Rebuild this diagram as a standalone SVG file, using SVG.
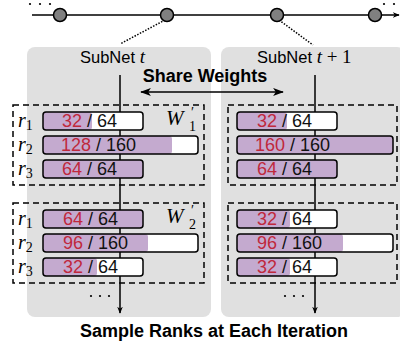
<svg xmlns="http://www.w3.org/2000/svg" width="400" height="346" viewBox="0 0 400 346">
  <defs>
    <style>
      .panel { fill: #e0e0e0; }
      .dash { fill: none; stroke: #000; stroke-width: 1.5; stroke-dasharray: 6 4; }
      .bar { fill: #fff; }
      .edge { fill: none; stroke: #000; stroke-width: 1.5; }
      .fill { fill: #c4aacf; }
      .sans { font-family: "Liberation Sans", Arial, sans-serif; }
      .num { font-family: "Liberation Sans", Arial, sans-serif; font-size: 18px; fill: #111; }
      .red { fill: #c0283c; }
      .math { font-family: "Liberation Serif", "Times New Roman", serif; font-style: italic; }
      .rm { font-family: "Liberation Serif", "Times New Roman", serif; font-style: normal; }
      .line { stroke: #000; stroke-width: 1.5; fill: none; }
      .dot { stroke: #000; stroke-width: 1.5; stroke-dasharray: 1.5 1.5; fill: none; }
      .node { fill: #808080; stroke: #000; stroke-width: 1.5; }
    </style>
    <marker id="head" viewBox="0 0 10 10" refX="9" refY="5" markerWidth="7" markerHeight="7" orient="auto-start-reverse" markerUnits="userSpaceOnUse">
      <path d="M0,1 L10,5 L0,9 L3,5 Z" fill="#000"/>
    </marker>
    <marker id="wide" viewBox="0 0 12 10" refX="11" refY="5" markerWidth="11" markerHeight="9" orient="auto-start-reverse" markerUnits="userSpaceOnUse">
      <path d="M0,0.5 L12,5 L0,9.5 L3,5 Z" fill="#000"/>
    </marker>
  </defs>

  <!-- background panels -->
  <rect class="panel" x="27" y="47" width="184" height="270" rx="8"/>
  <rect class="panel" x="221" y="47" width="184" height="270" rx="8"/>

  <!-- timeline and connectors -->
  <g id="connectors">
    <line class="line" x1="32" y1="15" x2="399" y2="15" marker-end="url(#head)"/>
    <line class="dot" x1="165" y1="20" x2="120" y2="44"/>
    <line class="dot" x1="279" y1="20" x2="313" y2="45"/>
    <line class="line" x1="120" y1="75" x2="120" y2="313" marker-end="url(#head)"/>
    <line class="line" x1="315" y1="75" x2="315" y2="313" marker-end="url(#head)"/>
    <line class="line" x1="141" y1="92" x2="283" y2="92" marker-start="url(#wide)" marker-end="url(#wide)"/>
  </g>

  <!-- timeline ellipses -->
  <g fill="#000">
    <circle cx="30" cy="4" r="1.1"/>
    <circle cx="40" cy="4" r="1.1"/>
    <circle cx="50" cy="4" r="1.1"/>
    <circle cx="384" cy="4" r="1.1"/>
    <circle cx="394" cy="4" r="1.1"/>
  </g>

  <!-- timeline nodes -->
  <g id="step0"><circle class="node" cx="60" cy="15" r="6.5"/></g>
  <g id="step1"><circle class="node" cx="167" cy="15" r="6.5"/></g>
  <g id="step2"><circle class="node" cx="277" cy="15" r="6.5"/></g>
  <g id="step3"><circle class="node" cx="375" cy="15" r="6.5"/></g>

  <!-- titles -->
  <text class="sans" x="80" y="63" font-size="16.5">SubNet <tspan class="math" font-size="19">t</tspan></text>
  <text class="sans" x="257" y="63" font-size="16.5">SubNet <tspan class="math" font-size="19">t</tspan><tspan class="rm" font-size="19"> + 1</tspan></text>
  <text class="sans" x="205" y="82" font-size="18" font-weight="bold" text-anchor="middle">Share Weights</text>

  <!-- SubNet t, layer group W1' -->
  <g id="subnet-t-w1">
    <rect class="dash" x="13" y="105" width="191" height="80"/>
    <text class="math" x="18" y="127" font-size="20">r<tspan class="rm" font-size="14" dy="3">1</tspan></text>
    <text class="math" x="18" y="151" font-size="20">r<tspan class="rm" font-size="14" dy="3">2</tspan></text>
    <text class="math" x="18" y="175" font-size="20">r<tspan class="rm" font-size="14" dy="3">3</tspan></text>
    <text class="math" x="166" y="125" font-size="21">W<tspan class="rm" font-size="14" x="191" y="117">′</tspan><tspan class="rm" font-size="14" x="189" y="131">1</tspan></text>
    <rect class="bar" x="43" y="112" width="100" height="18" rx="3"/>
    <rect class="fill" x="43" y="112" width="49" height="18" rx="3"/>
    <rect class="edge" x="43" y="112" width="100" height="18" rx="3"/>
    <text class="num" x="62" y="127"><tspan class="red">32</tspan> / 64</text>
    <rect class="bar" x="43" y="136" width="155" height="18" rx="3"/>
    <rect class="fill" x="43" y="136" width="129" height="18" rx="3"/>
    <rect class="edge" x="43" y="136" width="155" height="18" rx="3"/>
    <text class="num" x="61" y="151"><tspan class="red">128</tspan> / 160</text>
    <rect class="fill" x="43" y="160" width="100" height="18" rx="3"/>
    <rect class="edge" x="43" y="160" width="100" height="18" rx="3"/>
    <text class="num" x="62" y="175"><tspan class="red">64</tspan> / 64</text>
  </g>

  <!-- SubNet t, layer group W2' -->
  <g id="subnet-t-w2">
    <rect class="dash" x="13" y="203" width="191" height="80"/>
    <text class="math" x="18" y="225" font-size="20">r<tspan class="rm" font-size="14" dy="3">1</tspan></text>
    <text class="math" x="18" y="249" font-size="20">r<tspan class="rm" font-size="14" dy="3">2</tspan></text>
    <text class="math" x="18" y="273" font-size="20">r<tspan class="rm" font-size="14" dy="3">3</tspan></text>
    <text class="math" x="166" y="223" font-size="21">W<tspan class="rm" font-size="14" x="191" y="215">′</tspan><tspan class="rm" font-size="14" x="189" y="229">2</tspan></text>
    <rect class="fill" x="43" y="210" width="100" height="18" rx="3"/>
    <rect class="edge" x="43" y="210" width="100" height="18" rx="3"/>
    <text class="num" x="63" y="225"><tspan class="red">64</tspan> / 64</text>
    <rect class="bar" x="43" y="234" width="155" height="18" rx="3"/>
    <rect class="fill" x="43" y="234" width="105" height="18" rx="3"/>
    <rect class="edge" x="43" y="234" width="155" height="18" rx="3"/>
    <text class="num" x="63" y="249"><tspan class="red">96</tspan> / 160</text>
    <rect class="bar" x="43" y="258" width="100" height="18" rx="3"/>
    <rect class="fill" x="43" y="258" width="54" height="18" rx="3"/>
    <rect class="edge" x="43" y="258" width="100" height="18" rx="3"/>
    <text class="num" x="63" y="273"><tspan class="red">32</tspan> / 64</text>
  </g>

  <!-- SubNet t+1, layer group W1' -->
  <g id="subnet-t1-w1">
    <rect class="dash" x="228" y="105" width="169" height="80"/>
    <rect class="bar" x="237" y="112" width="100" height="18" rx="3"/>
    <rect class="fill" x="237" y="112" width="50" height="18" rx="3"/>
    <rect class="edge" x="237" y="112" width="100" height="18" rx="3"/>
    <text class="num" x="257" y="127"><tspan class="red">32</tspan> / 64</text>
    <rect class="fill" x="237" y="136" width="156" height="18" rx="3"/>
    <rect class="edge" x="237" y="136" width="156" height="18" rx="3"/>
    <text class="num" x="255" y="151"><tspan class="red">160</tspan> / 160</text>
    <rect class="fill" x="237" y="160" width="100" height="18" rx="3"/>
    <rect class="edge" x="237" y="160" width="100" height="18" rx="3"/>
    <text class="num" x="257" y="175"><tspan class="red">64</tspan> / 64</text>
  </g>

  <!-- SubNet t+1, layer group W2' -->
  <g id="subnet-t1-w2">
    <rect class="dash" x="228" y="203" width="169" height="80"/>
    <rect class="bar" x="237" y="210" width="100" height="18" rx="3"/>
    <rect class="fill" x="237" y="210" width="53" height="18" rx="3"/>
    <rect class="edge" x="237" y="210" width="100" height="18" rx="3"/>
    <text class="num" x="257" y="225"><tspan class="red">32</tspan> / 64</text>
    <rect class="bar" x="237" y="234" width="156" height="18" rx="3"/>
    <rect class="fill" x="237" y="234" width="106" height="18" rx="3"/>
    <rect class="edge" x="237" y="234" width="156" height="18" rx="3"/>
    <text class="num" x="257" y="249"><tspan class="red">96</tspan> / 160</text>
    <rect class="bar" x="237" y="258" width="100" height="18" rx="3"/>
    <rect class="fill" x="237" y="258" width="53" height="18" rx="3"/>
    <rect class="edge" x="237" y="258" width="100" height="18" rx="3"/>
    <text class="num" x="257" y="273"><tspan class="red">32</tspan> / 64</text>
  </g>

  <!-- vertical ellipses below the groups -->
  <g fill="#000">
    <circle cx="91" cy="296" r="1.1"/>
    <circle cx="100" cy="296" r="1.1"/>
    <circle cx="109" cy="296" r="1.1"/>
    <circle cx="285" cy="296" r="1.1"/>
    <circle cx="294" cy="296" r="1.1"/>
    <circle cx="303" cy="296" r="1.1"/>
  </g>

  <text class="sans" x="214" y="337" font-size="18" font-weight="bold" text-anchor="middle">Sample Ranks at Each Iteration</text>
</svg>
